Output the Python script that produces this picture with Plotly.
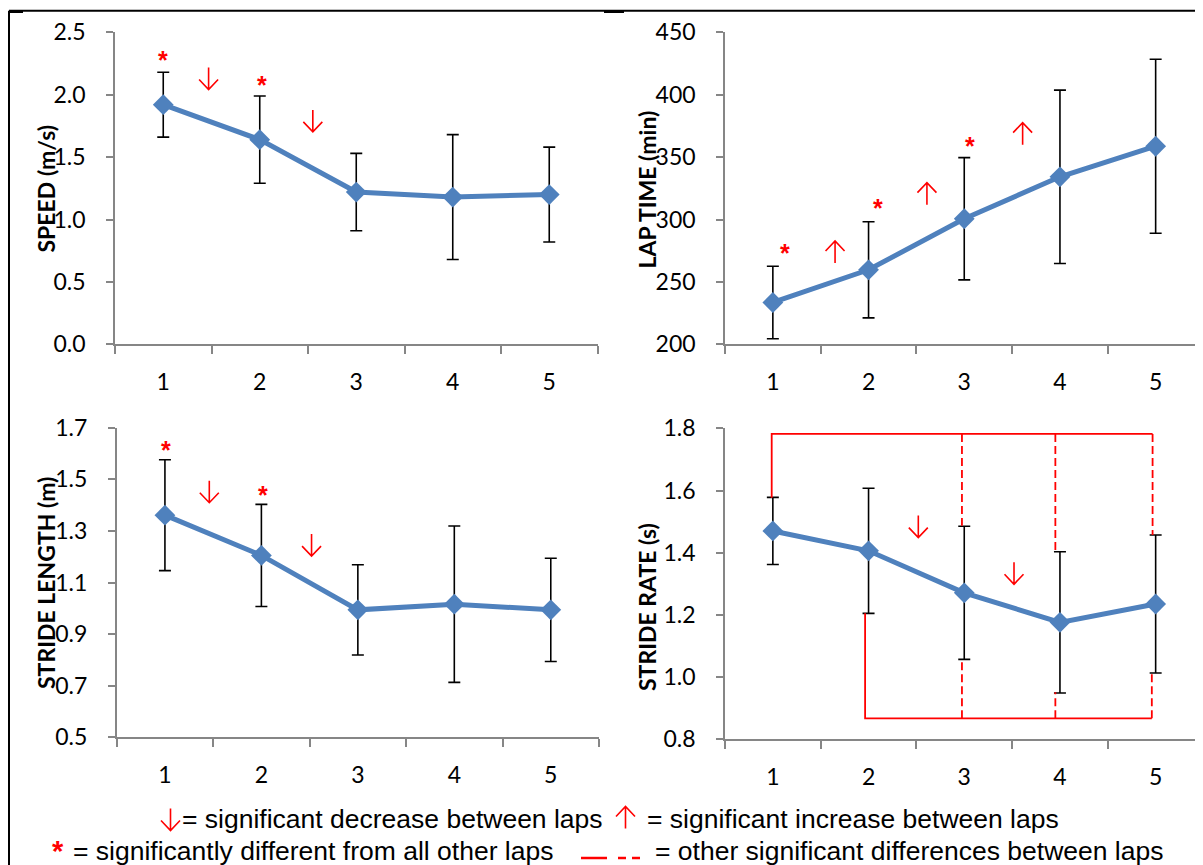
import plotly.graph_objects as go

# ---------------- data ----------------
laps = [1, 2, 3, 4, 5]
lap_labels = ["1", "2", "3", "4", "5"]

speed_mean = [1.92, 1.64, 1.22, 1.18, 1.20]
speed_sd = [0.26, 0.35, 0.31, 0.50, 0.38]

laptime_mean = [233.5, 259.7, 300.6, 334.2, 358.7]
laptime_sd = [29.0, 38.5, 49.0, 69.5, 69.7]

stride_length_mean = [1.361, 1.205, 0.994, 1.016, 0.994]
stride_length_sd = [0.215, 0.198, 0.175, 0.303, 0.200]

stride_rate_mean = [1.470, 1.406, 1.271, 1.176, 1.235]
stride_rate_sd = [0.108, 0.201, 0.214, 0.227, 0.222]

speed_ticks = [0.0, 0.5, 1.0, 1.5, 2.0, 2.5]
laptime_ticks = [200, 250, 300, 350, 400, 450]
stride_length_ticks = [0.5, 0.7, 0.9, 1.1, 1.3, 1.5, 1.7]
stride_rate_ticks = [0.8, 1.0, 1.2, 1.4, 1.6, 1.8]

# significance markers (x, y) in data units (centre of each mark)
speed_stars_x = [1.0, 2.02]
speed_stars_y = [2.32, 2.12]
speed_down_x = [1.47, 2.55]
speed_down_y = [2.13, 1.79]

laptime_stars_x = [1.13, 2.10, 3.06]
laptime_stars_y = [277, 313, 363]
laptime_up_x = [1.65, 2.61, 3.61]
laptime_up_y = [274, 320.7, 368.8]

stride_length_stars_x = [1.01, 2.02]
stride_length_stars_y = [1.633, 1.458]
stride_length_down_x = [1.46, 2.52]
stride_length_down_y = [1.452, 1.245]

stride_rate_down_x = [2.52, 3.52]
stride_rate_down_y = [1.484, 1.334]

# stride-rate brackets (other significant differences)
bracket_top_y = 1.782
bracket_bottom_y = 0.8675
top_solid_x = [0.988, 0.988, 4.968]
top_solid_y = [1.577, bracket_top_y, bracket_top_y]
top_dashed_x = [2.976, 3.952, 4.968]
top_dashed_end = [1.487, 1.405, 1.457]
bottom_solid_x = [1.964, 1.964, 4.96]
bottom_solid_y = [1.205, bracket_bottom_y, bracket_bottom_y]
bottom_dashed_x = [2.976, 3.952, 4.96]
bottom_dashed_end = [1.059, 0.951, 1.013]

# ---------------- layout helpers ----------------
W, H = 1203, 865
OFF = 8  # page body margin


def px(x):
    return (x - OFF) / W


def py(y):
    return 1 - (y - OFF) / H


BLUE = "#4F81BD"
RED = "#FF0000"
AXIS = "#868686"
TICKFONT = dict(family="Lato", size=23, color="black")
TITLEFONT = dict(family="Lato", size=23, color="black", weight="bold")

panels = [
    ("x", "y", (115, 597.5), (32.3, 344.3), [0, 2.5], speed_ticks, ".1f"),
    ("x2", "y2", (725, 1203.5), (32.3, 344.3), [200, 450], laptime_ticks, "d"),
    ("x3", "y3", (116.7, 599), (427.7, 737.3), [0.5, 1.7], stride_length_ticks, ".1f"),
    ("x4", "y4", (725, 1203.5), (428.3, 739.3), [0.8, 1.8], stride_rate_ticks, ".1f"),
]

series = [
    (speed_mean, speed_sd),
    (laptime_mean, laptime_sd),
    (stride_length_mean, stride_length_sd),
    (stride_rate_mean, stride_rate_sd),
]

fig = go.Figure()
layout_axes = {}

for (xa, ya, xd, yd, yr, yt, fmt), (mean, sd) in zip(panels, series):
    fig.add_trace(go.Scatter(
        x=laps, y=mean, mode="lines+markers",
        line=dict(color=BLUE, width=5),
        marker=dict(symbol="diamond", size=16, color=BLUE),
        error_y=dict(type="data", array=sd, color="black", thickness=1.6, width=6),
        xaxis=xa, yaxis=ya, showlegend=False, hoverinfo="skip",
    ))
    xkey = "xaxis" if xa == "x" else "xaxis" + xa[1:]
    ykey = "yaxis" if ya == "y" else "yaxis" + ya[1:]
    layout_axes[xkey] = dict(
        domain=[max(0, px(xd[0])), min(1, px(xd[1]))],
        anchor=ya, range=[0.5, 5.5],
        tickmode="array", tickvals=laps, ticktext=lap_labels,
        ticks="", showline=True, linecolor=AXIS, linewidth=1.5,
        showgrid=False, zeroline=False, tickfont=TICKFONT,
        ticklabelstandoff=16, automargin=False,
        minor=dict(tickmode="array", tickvals=[0.5, 1.5, 2.5, 3.5, 4.5, 5.5],
                   ticks="outside", ticklen=8, tickcolor=AXIS, tickwidth=1.5,
                   showgrid=False),
        fixedrange=True,
    )
    layout_axes[ykey] = dict(
        domain=[py(yd[1]), py(yd[0])],
        anchor=xa, range=yr,
        tickmode="array", tickvals=yt, tickformat=fmt,
        ticks="outside", ticklen=7, tickcolor=AXIS, tickwidth=1.5,
        showline=True, linecolor=AXIS, linewidth=1.5,
        showgrid=False, zeroline=False, tickfont=TICKFONT,
        ticklabelstandoff=16, automargin=False, fixedrange=True,
    )

# stride-rate bracket lines
fig.add_trace(go.Scatter(x=top_solid_x, y=top_solid_y, mode="lines",
                         line=dict(color=RED, width=1.8), xaxis="x4", yaxis="y4",
                         showlegend=False, hoverinfo="skip"))
fig.add_trace(go.Scatter(x=bottom_solid_x, y=bottom_solid_y, mode="lines",
                         line=dict(color=RED, width=1.8), xaxis="x4", yaxis="y4",
                         showlegend=False, hoverinfo="skip"))
for xv, yend in zip(top_dashed_x, top_dashed_end):
    fig.add_trace(go.Scatter(x=[xv, xv], y=[bracket_top_y, yend], mode="lines",
                             line=dict(color=RED, width=1.8, dash="8px,4px"),
                             xaxis="x4", yaxis="y4", showlegend=False, hoverinfo="skip"))
for xv, yend in zip(bottom_dashed_x, bottom_dashed_end):
    fig.add_trace(go.Scatter(x=[xv, xv], y=[bracket_bottom_y, yend], mode="lines",
                             line=dict(color=RED, width=1.8, dash="8px,4px"),
                             xaxis="x4", yaxis="y4", showlegend=False, hoverinfo="skip"))

annotations = []
shapes = []
STARFONT = dict(family="Liberation Sans", size=25, color=RED, weight="bold")

DOWN_PATH = "M0,11 L0,-11 M-9.5,-1 L0,-11 L9.5,-1"
UP_PATH = "M0,-11 L0,11 M-9.5,1 L0,11 L9.5,1"


def arrow_shape(xv, yv, xa, ya, down=True):
    # thin red arrow (open chevron head), sized in pixels, centred on (xv, yv)
    return dict(type="path", xref=xa, yref=ya, xsizemode="pixel", ysizemode="pixel",
                xanchor=xv, yanchor=yv, path=DOWN_PATH if down else UP_PATH,
                line=dict(color=RED, width=1.6), fillcolor="rgba(0,0,0,0)")


def add_stars(xs, ys, xa, ya):
    for xv, yv in zip(xs, ys):
        annotations.append(dict(x=xv, y=yv, xref=xa, yref=ya, text="*",
                                showarrow=False, font=STARFONT, yshift=-5))


def add_arrows(xs, ys, xa, ya, down=True):
    for xv, yv in zip(xs, ys):
        shapes.append(arrow_shape(xv, yv, xa, ya, down))


add_stars(speed_stars_x, speed_stars_y, "x", "y")
add_arrows(speed_down_x, speed_down_y, "x", "y", True)
add_stars(laptime_stars_x, laptime_stars_y, "x2", "y2")
add_arrows(laptime_up_x, laptime_up_y, "x2", "y2", False)
add_stars(stride_length_stars_x, stride_length_stars_y, "x3", "y3")
add_arrows(stride_length_down_x, stride_length_down_y, "x3", "y3", True)
add_arrows(stride_rate_down_x, stride_rate_down_y, "x4", "y4", True)

# axis titles
for text, xc, yc in [("SPEED (m/s)", 45.5, 189), ("LAP TIME (min)", 647, 189.5),
                     ("STRIDE LENGTH (m)", 46, 583), ("STRIDE RATE (s)", 647, 607)]:
    annotations.append(dict(x=px(xc), y=py(yc), xref="paper", yref="paper",
                            text=text, textangle=-90, showarrow=False,
                            font=TITLEFONT, xanchor="center", yanchor="middle"))

# explanatory key under the panels
L2 = 850.5  # centre of the second key line
LEGFONT = dict(family="Liberation Sans", size=26.5, color="black")
for text, xl, yc in [("= significant decrease between laps", 180, 818.5),
                     ("= significant increase between laps", 645, 818.5),
                     ("= significantly different from all other laps", 71, L2),
                     ("= other significant differences between laps", 653, L2)]:
    annotations.append(dict(x=px(xl), y=py(yc), xref="paper", yref="paper",
                            xanchor="left", yanchor="middle", showarrow=False,
                            font=LEGFONT, text=text))
annotations.append(dict(x=px(58), y=py(L2 + 0.5), xref="paper", yref="paper",
                        xanchor="center", yanchor="middle", showarrow=False,
                        font=dict(family="Liberation Sans", size=29, color=RED, weight="bold"),
                        text="*"))
shapes.append(arrow_shape(px(170.5), py(819.5), "paper", "paper", True))
shapes.append(arrow_shape(px(625.5), py(817.5), "paper", "paper", False))

sym_y = py(L2 + 7.5)
shapes += [
    # outer frame
    dict(type="line", xref="paper", yref="paper", x0=px(9), x1=px(9), y0=py(10.7), y1=0,
         line=dict(color="black", width=2)),
    dict(type="line", xref="paper", yref="paper", x0=px(9), x1=1, y0=py(10.7), y1=py(10.7),
         line=dict(color="black", width=2)),
    dict(type="line", xref="paper", yref="paper", x0=px(9), x1=px(23), y0=py(11.5), y1=py(11.5),
         line=dict(color="black", width=3)),
    dict(type="line", xref="paper", yref="paper", x0=px(604), x1=px(624), y0=py(11.5), y1=py(11.5),
         line=dict(color="black", width=3)),
    # key line symbols
    dict(type="line", xref="paper", yref="paper", x0=px(581), x1=px(607), y0=sym_y, y1=sym_y,
         line=dict(color=RED, width=2.5)),
    dict(type="line", xref="paper", yref="paper", x0=px(618), x1=px(626), y0=sym_y, y1=sym_y,
         line=dict(color=RED, width=2.5)),
    dict(type="line", xref="paper", yref="paper", x0=px(632), x1=px(640), y0=sym_y, y1=sym_y,
         line=dict(color=RED, width=2.5)),
]

fig.update_layout(
    width=W, height=H,
    margin=dict(l=0, r=0, t=0, b=0, autoexpand=False),
    paper_bgcolor="white", plot_bgcolor="white",
    annotations=annotations, shapes=shapes,
    showlegend=False,
    **layout_axes,
)

fig.write_html("out.html")
